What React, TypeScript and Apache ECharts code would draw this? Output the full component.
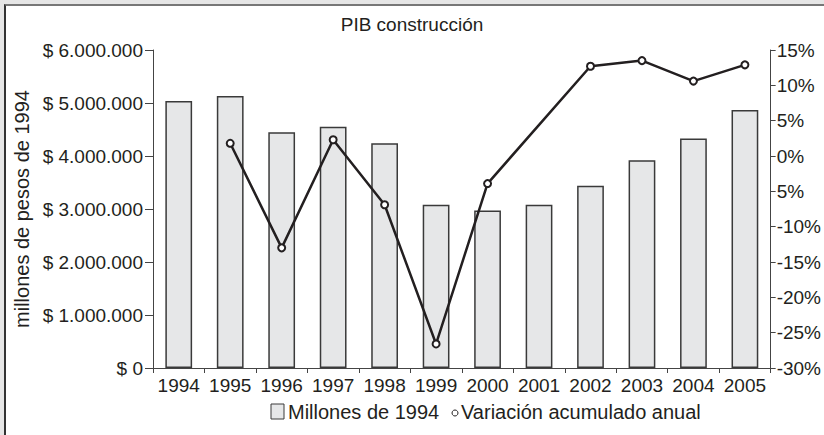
import React, { useEffect, useRef } from "react";
import * as echarts from "echarts";

const years = ["1994", "1995", "1996", "1997", "1998", "1999", "2000", "2001", "2002", "2003", "2004", "2005"];
const pibMillones = [5040000, 5130000, 4450000, 4550000, 4240000, 3080000, 2970000, 3080000, 3440000, 3920000, 4330000, 4870000];
const variacion: (number | null)[] = [null, 1.8, -13.0, 2.3, -6.9, -26.6, -3.9, null, 12.7, 13.5, 10.6, 12.9];

const TEXT = "#231f20";
const FONT = "Liberation Sans, Arial, Helvetica, sans-serif";
const FS = 19;

function fmtPesos(v: number): string {
  const s = Math.round(v).toString().replace(/\B(?=(\d{3})+(?!\d))/g, ".");
  return "$ " + s;
}

export default function App() {
  const ref = useRef<HTMLDivElement>(null);
  useEffect(() => {
    if (!ref.current) return;
    const chart = echarts.init(ref.current, null, { renderer: "svg" });
    chart.setOption({
      animation: false,
      title: {
        text: "PIB construcción",
        left: "center",
        top: 10,
        textStyle: { fontFamily: FONT, fontSize: FS, fontWeight: "normal", color: TEXT },
      },
      grid: { left: 153, right: 51, top: 50, bottom: 67 },
      xAxis: {
        type: "category",
        data: years,
        boundaryGap: true,
        axisLine: { lineStyle: { color: "#444", width: 1 } },
        axisTick: { show: true, alignWithLabel: false, length: 5, lineStyle: { color: "#444" } },
        axisLabel: { interval: 0, margin: 8, fontFamily: FONT, fontSize: FS, color: TEXT },
        splitLine: { show: false },
      },
      yAxis: [
        {
          type: "value",
          min: 0,
          max: 6000000,
          interval: 1000000,
          name: "millones de pesos de 1994",
          nameLocation: "middle",
          nameGap: 120,
          nameTextStyle: { fontFamily: FONT, fontSize: FS + 1, color: TEXT },
          axisLine: { show: true, lineStyle: { color: "#444", width: 1 } },
          axisTick: { show: true, length: 8, lineStyle: { color: "#444" } },
          axisLabel: { margin: 10, fontFamily: FONT, fontSize: FS, color: TEXT, formatter: (v: number) => fmtPesos(v) },
          splitLine: { show: false },
        },
        {
          type: "value",
          min: -30,
          max: 15,
          interval: 5,
          position: "right",
          axisLine: { show: true, lineStyle: { color: "#444", width: 1 } },
          axisTick: { show: true, length: 5, lineStyle: { color: "#444" } },
          axisLabel: {
            margin: 6,
            fontFamily: FONT,
            fontSize: FS,
            color: TEXT,
            formatter: (v: number) => (v === -5 ? "5%" : v + "%"),
          },
          splitLine: { show: false },
        },
      ],
      series: [
        {
          name: "Millones de 1994",
          type: "bar",
          data: pibMillones,
          yAxisIndex: 0,
          barWidth: "52%",
          itemStyle: { color: "#e6e7e8", borderColor: "#3a3a3a", borderWidth: 1.5 },
        },
        {
          name: "Variación acumulado anual",
          type: "line",
          data: variacion,
          yAxisIndex: 1,
          connectNulls: true,
          symbol: "emptyCircle",
          symbolSize: 7,
          lineStyle: { color: "#231f20", width: 2.5 },
          itemStyle: { color: "#231f20", borderColor: "#231f20", borderWidth: 1 },
          z: 5,
        },
      ],
      graphic: [
        {
          type: "rect",
          shape: { x: 271, y: 404, width: 13, height: 15 },
          style: { fill: "#e6e7e8", stroke: "#3a3a3a", lineWidth: 1 },
        },
        {
          type: "text",
          x: 288,
          y: 412,
          style: { text: "Millones de 1994", fontFamily: FONT, fontSize: FS + 1, fill: TEXT, verticalAlign: "middle", align: "left" },
        },
        {
          type: "circle",
          shape: { cx: 455, cy: 413, r: 3 },
          style: { fill: "#fff", stroke: "#231f20", lineWidth: 1 },
        },
        {
          type: "text",
          x: 461,
          y: 412,
          style: { text: "Variación acumulado anual", fontFamily: FONT, fontSize: FS + 1, fill: TEXT, verticalAlign: "middle", align: "left" },
        },
      ],
    });
    return () => chart.dispose();
  }, []);

  return (
    <div style={{ position: "fixed", left: 0, top: 0, width: 824, height: 435, background: "#e6e6e6", overflow: "hidden" }}>
      <div
        style={{
          position: "absolute",
          left: 4,
          top: 4,
          width: 822,
          height: 433,
          background: "#fff",
          borderLeft: "2px solid #333",
          borderTop: "2px solid #777",
        }}
      />
      <div ref={ref} style={{ position: "absolute", left: 0, top: 0, width: 824, height: 435 }} />
    </div>
  );
}
